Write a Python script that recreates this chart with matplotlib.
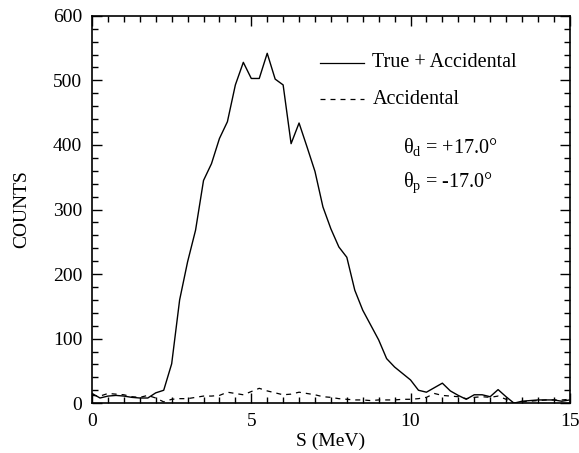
import matplotlib
matplotlib.use("Agg")
import matplotlib.pyplot as plt
from matplotlib.ticker import MultipleLocator

# Energy bins (MeV), 0.25 MeV spacing
s_mev = [i * 0.25 for i in range(61)]

true_plus_acc = [
    15, 8, 11, 12, 11, 9, 8, 8, 16, 20,          # 0.00 - 2.25
    61, 160, 219, 268, 345, 371, 410, 436, 493, 528,  # 2.50 - 4.75
    503, 503, 542, 502, 493, 402, 434, 397, 359, 304,  # 5.00 - 7.25
    270, 242, 226, 175, 144, 121, 98, 69, 56, 46,      # 7.50 - 9.75
    36, 20, 17, 24, 31, 19, 12, 6, 13, 13,             # 10.00 - 12.25
    10, 21, 10, 0, 3, 4, 5, 5, 5, 3, 5                 # 12.50 - 15.00
]

accidental = [
    12, 11, 15, 14, 13, 10, 9, 12, 8, 2,
    6, 7, 7, 9, 11, 11, 12, 17, 15, 13,
    18, 23, 19, 16, 13, 14, 17, 15, 13, 10,
    9, 7, 6, 5, 5, 4, 5, 5, 5, 6,
    6, 7, 9, 15, 12, 11, 10, 7, 9, 10,
    9, 11, 6, 0, 2, 3, 4, 5, 5, 5, 6
]

x_ticks = [0, 5, 10, 15]
y_ticks = [0, 100, 200, 300, 400, 500, 600]

plt.rcParams['font.family'] = ['Liberation Serif', 'DejaVu Serif']
plt.rcParams['mathtext.fontset'] = 'custom'
plt.rcParams['mathtext.rm'] = 'Liberation Serif'
plt.rcParams['mathtext.it'] = 'Liberation Serif:italic'

fig = plt.figure(figsize=(5.79, 4.53), dpi=100)
ax = fig.add_axes([0.159, 0.110, 0.825, 0.855])

ax.plot(s_mev, true_plus_acc, color='black', lw=1.0)
ax.plot(s_mev, accidental, color='black', lw=0.9, dashes=(4, 4))

ax.set_xlim(0, 15)
ax.set_ylim(0, 600)
ax.set_xticks(x_ticks)
ax.set_yticks(y_ticks)
ax.xaxis.set_minor_locator(MultipleLocator(0.5))
ax.yaxis.set_minor_locator(MultipleLocator(20))
ax.tick_params(which='both', direction='in', top=True, right=True,
               labelsize=14, width=1.0)
ax.tick_params(which='major', length=7)
ax.tick_params(which='minor', length=4.3)
ax.tick_params(axis='x', pad=7)
ax.tick_params(axis='y', pad=7)
for sp in ax.spines.values():
    sp.set_linewidth(1.2)

ax.set_xlabel('S (MeV)', fontsize=14, labelpad=2)
ax.set_ylabel('COUNTS', fontsize=14, labelpad=16)

# Legend drawn manually
ax.plot([7.15, 8.53], [527, 527], color='black', lw=0.9)
ax.text(8.8, 527, 'True + Accidental', fontsize=14.5, va='center', ha='left')
ax.plot([7.15, 8.53], [471, 471], color='black', lw=0.9, dashes=(4, 4))
ax.text(8.8, 471, 'Accidental', fontsize=14.5, va='center', ha='left')

ax.text(9.75, 397, r'θ$_{\rm d}$ = +17.0°', fontsize=14.5, va='center', ha='left')
ax.text(9.75, 341, r'θ$_{\rm p}$ = -17.0°', fontsize=14.5, va='center', ha='left')

fig.savefig('out.png', dpi=100)
